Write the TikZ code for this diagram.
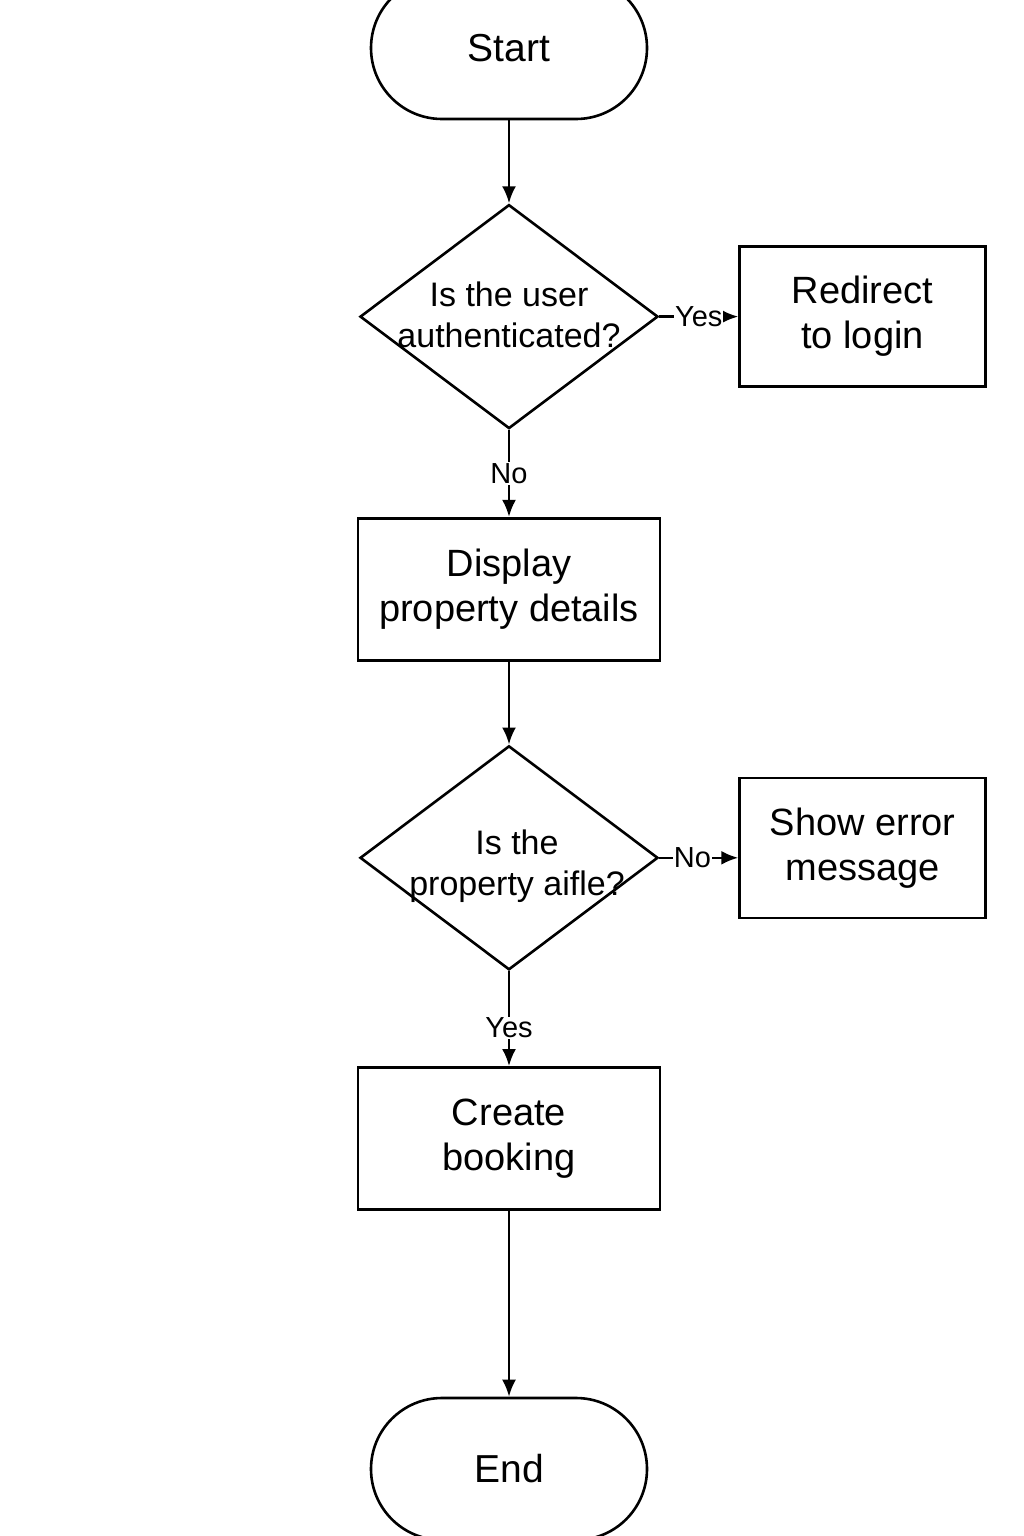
\documentclass[tikz,border=0pt]{standalone}
\usepackage{fontspec}
\setmainfont{Liberation Sans}
\usetikzlibrary{positioning,shapes.geometric,arrows.meta}

\begin{document}
\begin{tikzpicture}[terminal/.style={draw,rounded corners=71pt,minimum width=276pt,minimum height=142pt,font=\fontsize{39}{44}\selectfont},
   process/.style={draw,align=center,minimum width=302pt,minimum height=142pt,font=\fontsize{38}{45}\selectfont},
   sidebox/.style={process,minimum width=246pt,minimum height=140pt},
   decision/.style={draw,diamond,inner sep=0pt,minimum width=298pt,minimum height=224pt},
   question/.style={align=center,font=\fontsize{34}{41}\selectfont},
   flow/.style={-{Latex[length=17pt,width=14pt]}},
   answer/.style={fill=white,inner sep=1pt,font=\fontsize{29}{30}\selectfont},
   line width=2.6pt]
\useasboundingbox (0,0) rectangle (1024pt,-1536pt);
% main column
\node[terminal] (start) at (509pt,-48pt) {Start};
\node[decision,below=83pt of start] (auth) {};
\node[question,yshift=2pt] (authq) at (auth) {Is the user\\authenticated?};
\node[process,below=87pt of auth] (display) {Display\\property details};
\node[decision,below=83pt of display] (avail) {};
\node[question,xshift=8pt,yshift=-8pt] (availq) at (avail) {Is the\\property aifle?};
\node[process,below=95pt of avail] (booking) {Create\\booking};
\node[terminal,below=186pt of booking] (end) {End};
% side branches
\node[sidebox,right=79pt of auth] (login) {Redirect\\to login};
\node[sidebox,right=79pt of avail,yshift=10pt] (error) {Show error\\message};
% connectors
\draw[flow] (start) -- (auth);
\draw[flow] (auth) -- node[answer] {Yes} (login);
\draw[flow] (auth) -- node[answer] {No} (display);
\draw[flow] (display) -- (avail);
\draw[flow] (avail.east) -- node[answer,pos=0.42] {No} (avail.east -| error.west);
\draw[flow] (avail) -- node[answer,pos=0.6] {Yes} (booking);
\draw[flow] (booking) -- (end);
\end{tikzpicture}
\end{document}
